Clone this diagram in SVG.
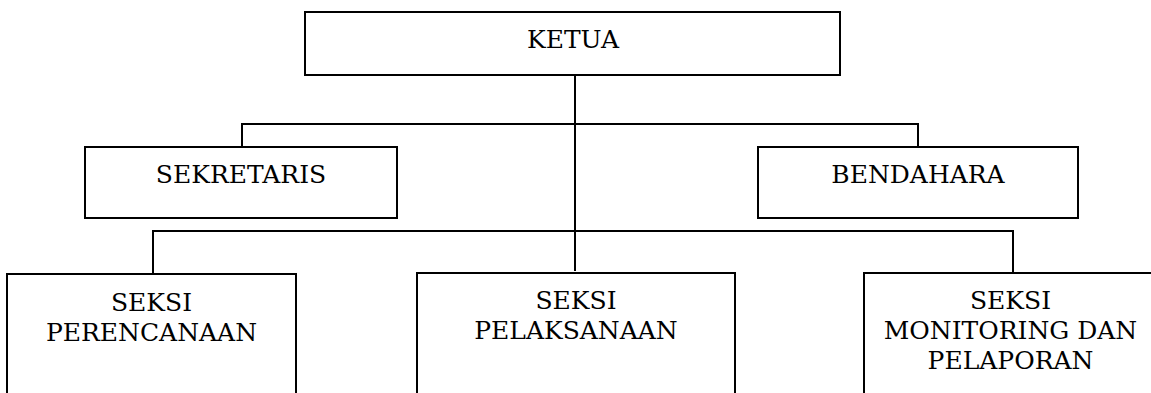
<svg xmlns="http://www.w3.org/2000/svg" width="1151" height="393" viewBox="0 0 1151 393">
<style>
.box{fill:#fff;stroke:#000;stroke-width:2}
.lbl{font-family:"DejaVu Serif","Liberation Serif",serif;font-size:25px;fill:#000;text-anchor:middle}
.con{fill:none;stroke:#000;stroke-width:2}
</style>
<rect width="1151" height="393" fill="#fff"/>
<g id="connectors">
<path class="con" d="M575 75V271"/>
<path class="con" d="M242 147V124H918V147"/>
<path class="con" d="M153 274V231H1013V273"/>
</g>
<g id="ketua">
<rect class="box" x="305" y="12" width="535" height="63"/>
<text class="lbl" x="573" y="48">KETUA</text>
</g>
<g id="sekretaris">
<rect class="box" x="85" y="147" width="312" height="71"/>
<text class="lbl" x="241" y="183">SEKRETARIS</text>
</g>
<g id="bendahara">
<rect class="box" x="758" y="147" width="320" height="71"/>
<text class="lbl" x="918" y="183">BENDAHARA</text>
</g>
<g id="seksi-perencanaan">
<rect class="box" x="7" y="274" width="289" height="130"/>
<text class="lbl" x="151.5" y="311">SEKSI</text>
<text class="lbl" x="151.5" y="341">PERENCANAAN</text>
</g>
<g id="seksi-pelaksanaan">
<rect class="box" x="417" y="273" width="318" height="130"/>
<text class="lbl" x="576" y="309">SEKSI</text>
<text class="lbl" x="576" y="339">PELAKSANAAN</text>
</g>
<g id="seksi-monitoring">
<rect class="box" x="864" y="273" width="292" height="130"/>
<text class="lbl" x="1010.5" y="309">SEKSI</text>
<text class="lbl" x="1010.5" y="339">MONITORING DAN</text>
<text class="lbl" x="1010.5" y="369">PELAPORAN</text>
</g>
</svg>
